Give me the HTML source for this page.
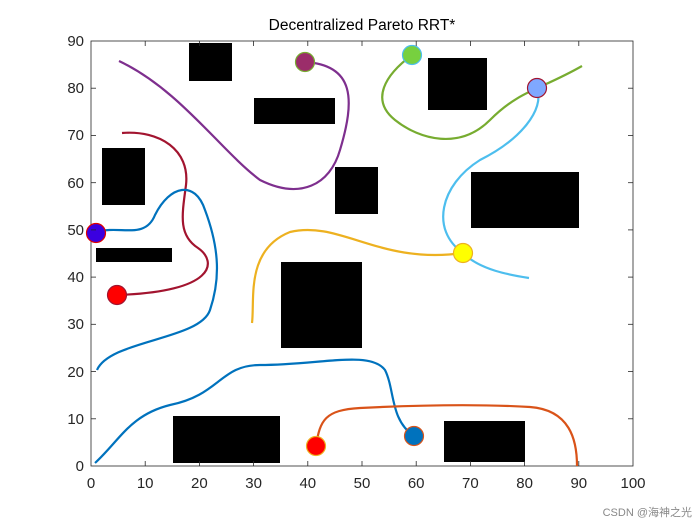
<!DOCTYPE html>
<html><head><meta charset="utf-8"><style>
html,body{margin:0;padding:0;background:#fff;}
svg{display:block;font-family:"Liberation Sans",sans-serif;}
</style></head><body>
<svg width="700" height="525" viewBox="0 0 700 525" xmlns="http://www.w3.org/2000/svg">
<rect x="0" y="0" width="700" height="525" fill="#fff"/>
<rect x="91" y="41" width="542" height="425" fill="#fff" stroke="#262626" stroke-width="0.8"/>
<text x="362" y="30" text-anchor="middle" font-size="15.5" fill="#000">Decentralized Pareto RRT*</text>
<g fill="#000">
<rect x="189" y="43" width="43" height="38"/>
<rect x="254" y="98" width="81" height="26"/>
<rect x="428" y="58" width="59" height="52"/>
<rect x="102" y="148" width="43" height="57"/>
<rect x="335" y="167" width="43" height="47"/>
<rect x="471" y="172" width="108" height="56"/>
<rect x="96" y="248" width="76" height="14"/>
<rect x="281" y="262" width="81" height="86"/>
<rect x="173" y="416" width="107" height="47"/>
<rect x="444" y="421" width="81" height="41"/>
</g>
<g fill="none" stroke-width="2.2">
<path d="M119,61 C180,90 220,150 260,180 C300,200 330,185 340,150 C355,100 355,65 305,62" stroke="#7e2f8e"/>
<path d="M122,133 C160,130 190,150 186,185 C182,215 178,235 198,248 C218,262 215,292 117,295" stroke="#a2142f"/>
<path d="M97,370 C110,340 200,340 210,310 C220,280 220,250 205,210 C195,180 170,185 155,215 C145,240 120,225 97,232" stroke="#0072bd"/>
<path d="M252,323 C255,300 245,250 290,232 C340,220 380,265 463,253" stroke="#edb120"/>
<path d="M537,88 C545,110 520,140 480,160 C440,185 430,230 463,253 C480,270 510,275 529,278" stroke="#4dbeee"/>
<path d="M412,55 C385,75 370,100 395,120 C420,140 460,150 490,120 C520,90 540,90 582,66" stroke="#77ac30"/>
<path d="M95,463 C120,440 130,415 170,405 C220,395 220,365 260,365 C320,365 370,350 385,370 C395,390 390,420 414,436" stroke="#0072bd"/>
<path d="M316,446 C320,420 325,410 360,408 C420,405 480,404 530,407 C570,410 577,440 577,466" stroke="#d95319"/>
</g>
<g stroke-width="1.2">
<circle cx="305" cy="62" r="9.5" fill="#9b2d6a" stroke="#77ac30"/>
<circle cx="412" cy="55" r="9.5" fill="#77d03f" stroke="#4dbeee"/>
<circle cx="537" cy="88" r="9.5" fill="#7fa8ff" stroke="#a2142f"/>
<circle cx="96" cy="233" r="9.5" fill="#3a00e0" stroke="#e00000"/>
<circle cx="117" cy="295" r="9.5" fill="#ff0000" stroke="#a2142f"/>
<circle cx="463" cy="253" r="9.5" fill="#ffff00" stroke="#edb120"/>
<circle cx="414" cy="436" r="9.5" fill="#0072bd" stroke="#d95319"/>
<circle cx="316" cy="446" r="9.5" fill="#ff0000" stroke="#edb120"/>
</g>
<g stroke="#262626" stroke-width="0.8">
<line x1="145.2" y1="466" x2="145.2" y2="461"/><line x1="199.4" y1="466" x2="199.4" y2="461"/><line x1="253.6" y1="466" x2="253.6" y2="461"/><line x1="307.8" y1="466" x2="307.8" y2="461"/><line x1="362" y1="466" x2="362" y2="461"/><line x1="416.2" y1="466" x2="416.2" y2="461"/><line x1="470.4" y1="466" x2="470.4" y2="461"/><line x1="524.6" y1="466" x2="524.6" y2="461"/><line x1="578.8" y1="466" x2="578.8" y2="461"/>
<line x1="145.2" y1="41" x2="145.2" y2="46"/><line x1="199.4" y1="41" x2="199.4" y2="46"/><line x1="253.6" y1="41" x2="253.6" y2="46"/><line x1="307.8" y1="41" x2="307.8" y2="46"/><line x1="362" y1="41" x2="362" y2="46"/><line x1="416.2" y1="41" x2="416.2" y2="46"/><line x1="470.4" y1="41" x2="470.4" y2="46"/><line x1="524.6" y1="41" x2="524.6" y2="46"/><line x1="578.8" y1="41" x2="578.8" y2="46"/>
<line x1="91" y1="418.8" x2="96" y2="418.8"/><line x1="91" y1="371.6" x2="96" y2="371.6"/><line x1="91" y1="324.3" x2="96" y2="324.3"/><line x1="91" y1="277.1" x2="96" y2="277.1"/><line x1="91" y1="229.9" x2="96" y2="229.9"/><line x1="91" y1="182.7" x2="96" y2="182.7"/><line x1="91" y1="135.4" x2="96" y2="135.4"/><line x1="91" y1="88.2" x2="96" y2="88.2"/>
<line x1="633" y1="418.8" x2="628" y2="418.8"/><line x1="633" y1="371.6" x2="628" y2="371.6"/><line x1="633" y1="324.3" x2="628" y2="324.3"/><line x1="633" y1="277.1" x2="628" y2="277.1"/><line x1="633" y1="229.9" x2="628" y2="229.9"/><line x1="633" y1="182.7" x2="628" y2="182.7"/><line x1="633" y1="135.4" x2="628" y2="135.4"/><line x1="633" y1="88.2" x2="628" y2="88.2"/>
</g>
<g font-size="15" fill="#262626" text-anchor="middle">
<text x="91" y="488">0</text><text x="145.2" y="488">10</text><text x="199.4" y="488">20</text><text x="253.6" y="488">30</text><text x="307.8" y="488">40</text><text x="362" y="488">50</text><text x="416.2" y="488">60</text><text x="470.4" y="488">70</text><text x="524.6" y="488">80</text><text x="578.8" y="488">90</text><text x="633" y="488">100</text>
</g>
<g font-size="15" fill="#262626" text-anchor="end">
<text x="84" y="471">0</text><text x="84" y="424">10</text><text x="84" y="377">20</text><text x="84" y="329">30</text><text x="84" y="282">40</text><text x="84" y="235">50</text><text x="84" y="188">60</text><text x="84" y="140">70</text><text x="84" y="93">80</text><text x="84" y="46">90</text>
</g>
<text x="692" y="516" text-anchor="end" font-size="11" fill="#888" font-family="'Liberation Sans','Noto Sans CJK SC',sans-serif">CSDN @海神之光</text>
</svg>
</body></html>
